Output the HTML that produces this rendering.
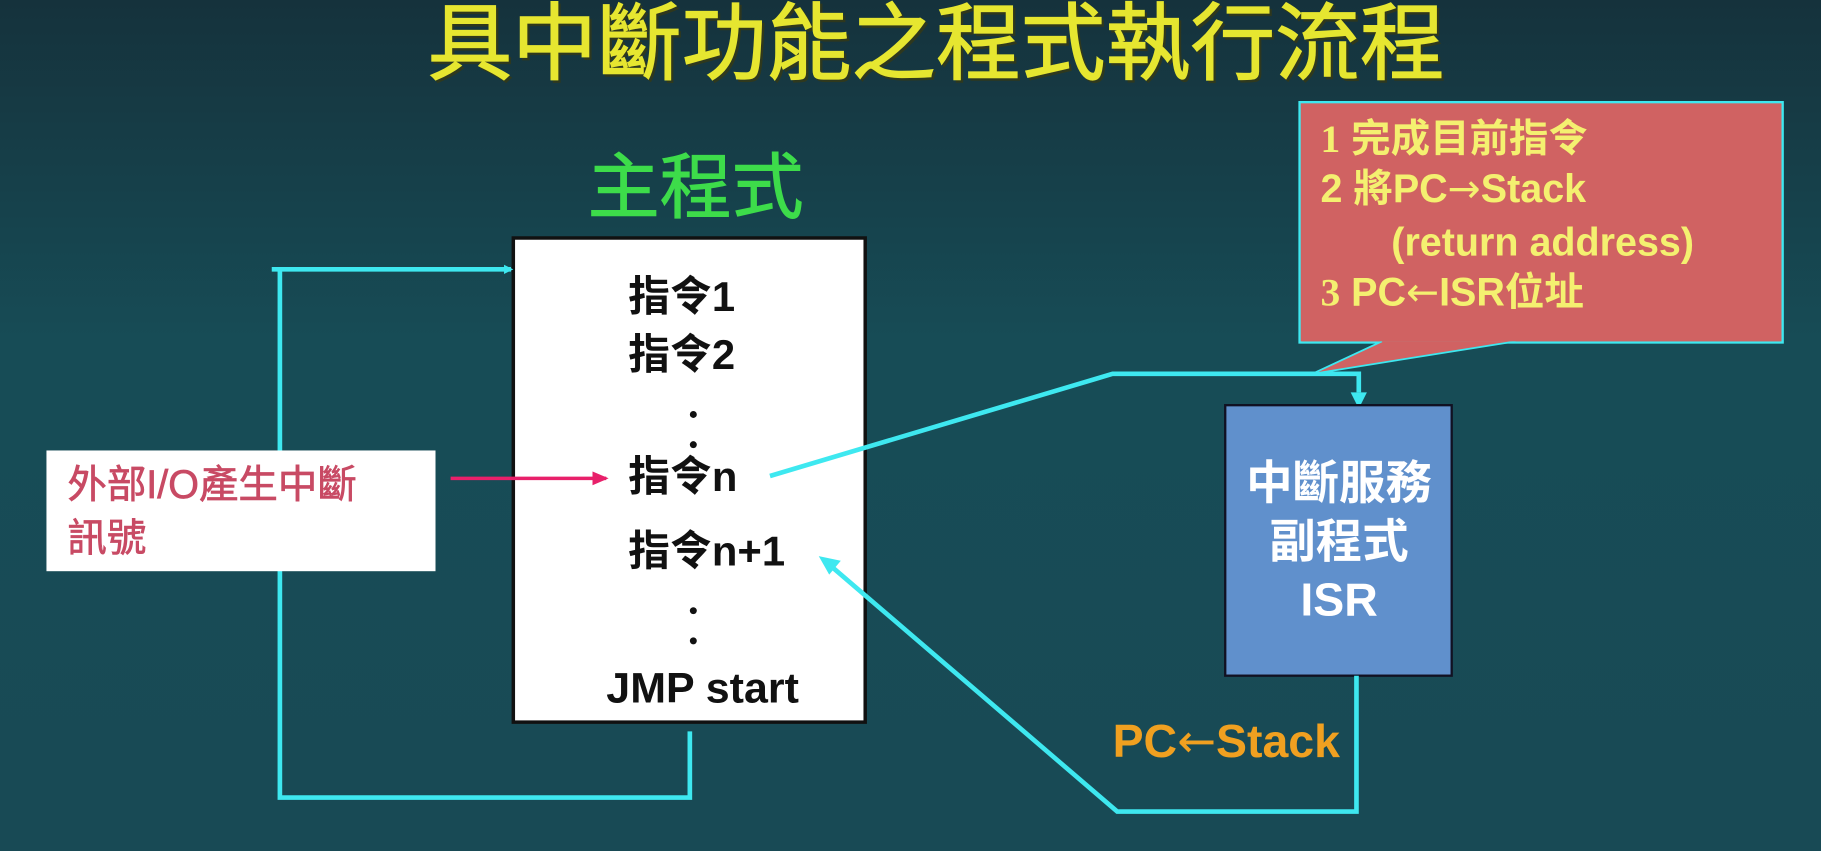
<!DOCTYPE html>
<html><head><meta charset="utf-8"><style>
html,body{margin:0;padding:0;width:1821px;height:851px;overflow:hidden;background:#164650}
svg{display:block}
text{font-family:"Liberation Sans","Noto Sans CJK TC",sans-serif}
.ar{font-family:"DejaVu Sans",sans-serif}
</style></head><body>
<svg width="1821" height="851" viewBox="0 0 1568 733" preserveAspectRatio="none" xmlns="http://www.w3.org/2000/svg">
<defs>
<linearGradient id="bg" x1="0" y1="0" x2="0" y2="1">
<stop offset="0" stop-color="#15323c"/><stop offset="0.4" stop-color="#174c56"/><stop offset="1" stop-color="#184a55"/>
</linearGradient>
<marker id="ac" markerWidth="8" markerHeight="8" refX="6" refY="4" orient="auto" markerUnits="userSpaceOnUse"><path d="M0,0 L8,4 L0,8 z" fill="#3ee8f0"/></marker>
<marker id="ap" markerWidth="14" markerHeight="12" refX="12" refY="6" orient="auto" markerUnits="userSpaceOnUse"><path d="M0,0 L14,6 L0,12 z" fill="#e8206a"/></marker>
</defs>
<rect width="1568" height="733" fill="url(#bg)"/>
<text x="806" y="63" text-anchor="middle" font-size="73" fill="#3a3a10" opacity="0.7" transform="translate(2,2)" stroke="#3a3a10" stroke-width="1">具中斷功能之程式執行流程</text>
<text x="806" y="63" text-anchor="middle" font-size="73" fill="#e6e630" stroke="#e6e630" stroke-width="1">具中斷功能之程式執行流程</text>
<text x="599" y="183" text-anchor="middle" font-size="62" fill="#3ddc4a" stroke="#3ddc4a" stroke-width="0.8">主程式</text>
<rect x="442" y="205" width="303" height="417" fill="#fff" stroke="#111" stroke-width="3"/>
<g font-size="36" font-weight="bold" fill="#111">
<text x="541" y="268">指令1</text>
<text x="541" y="318">指令2</text>
<text x="541" y="423">指令n</text>
<text x="541" y="487">指令n+1</text>
<text x="605" y="605" text-anchor="middle" font-size="37">JMP start</text>
</g>
<g fill="#111"><circle cx="597" cy="357" r="3"/><circle cx="597" cy="383" r="3"/><circle cx="597" cy="526" r="3"/><circle cx="597" cy="552" r="3"/></g>
<polyline points="594,630 594,687 241,687 241,232" fill="none" stroke="#3ee8f0" stroke-width="4"/>
<line x1="234" y1="232" x2="440" y2="232" stroke="#3ee8f0" stroke-width="4" marker-end="url(#ac)"/>
<rect x="40" y="388" width="335" height="104" fill="#fff"/>
<text x="58" y="429" font-size="34" fill="#c84a64" stroke="#c84a64" stroke-width="0.6">外部I/O產生中斷</text>
<text x="58" y="475" font-size="34" fill="#c84a64" stroke="#c84a64" stroke-width="0.6">訊號</text>
<line x1="388" y1="412" x2="522" y2="412" stroke="#e8206a" stroke-width="3" marker-end="url(#ap)"/>
<polyline points="663,410 958,322 1170,322 1170,338" fill="none" stroke="#3ee8f0" stroke-width="4"/>
<path d="M1163,338 L1177,338 L1170,352 z" fill="#3ee8f0"/>
<rect x="1119" y="88" width="416" height="207" fill="#d06262" stroke="#3ee8f0" stroke-width="2"/>
<path d="M1190,294 L1130,322 L1305,294" fill="#d06262" stroke="#3ee8f0" stroke-width="1.5"/>
<rect x="1121" y="280" width="412" height="14" fill="#d06262"/>
<g font-size="34" font-weight="bold" fill="#f4f070">
<text x="1137" y="131"><tspan font-family="Liberation Serif">1</tspan> 完成目前指令</text>
<text x="1137" y="174">2 將PC<tspan class="ar" font-weight="normal">→</tspan>Stack</text>
<text x="1198" y="220">(return address)</text>
<text x="1137" y="263"><tspan font-family="Liberation Serif">3</tspan> PC<tspan class="ar" font-weight="normal">←</tspan>ISR位址</text>
</g>
<rect x="1055" y="349" width="195" height="233" fill="#6090cc" stroke="#112" stroke-width="2"/>
<g font-size="40" font-weight="bold" fill="#fff" text-anchor="middle">
<text x="1153" y="430">中斷服務</text>
<text x="1153" y="480">副程式</text>
<text x="1153" y="530">ISR</text>
</g>
<polyline points="1168,582 1168,699 962,699 716,488" fill="none" stroke="#3ee8f0" stroke-width="4"/>
<path d="M705,479 L724,483 L714,495 z" fill="#3ee8f0"/>
<text x="958" y="652" font-size="40" font-weight="bold" fill="#f0a020">PC<tspan class="ar" font-weight="normal">←</tspan>Stack</text>
</svg>
</body></html>
